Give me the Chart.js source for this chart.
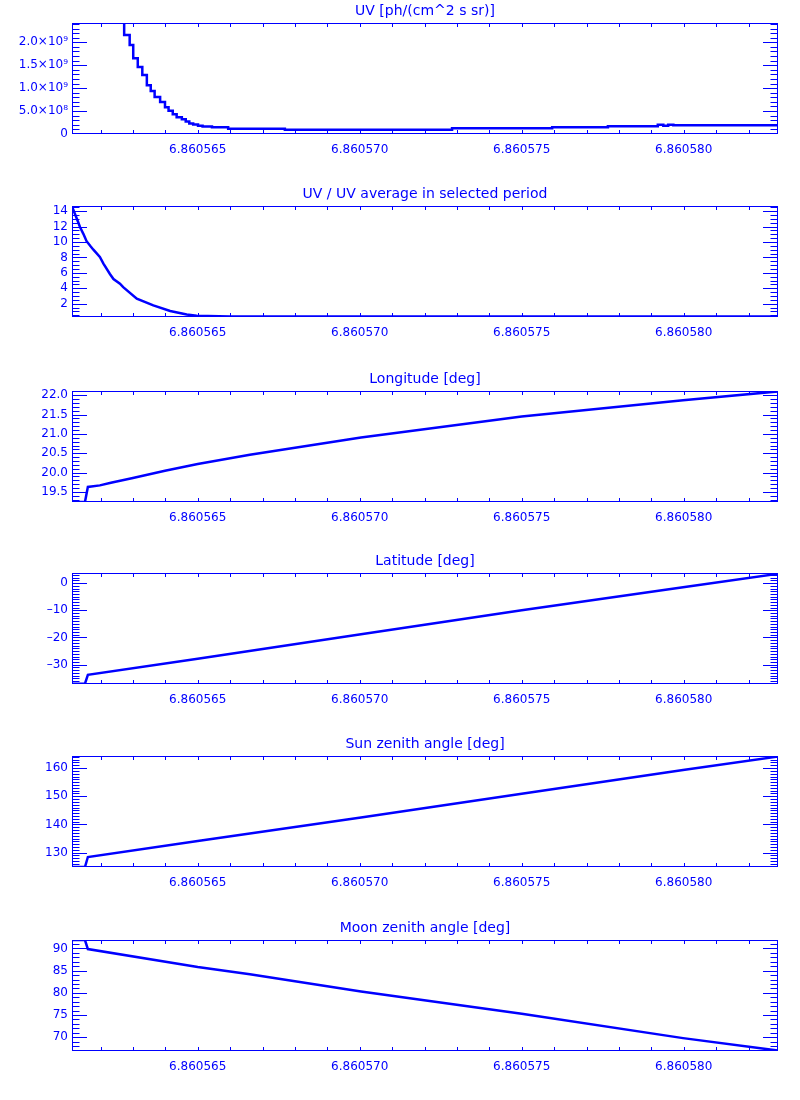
<!DOCTYPE html>
<html>
<head>
<meta charset="utf-8">
<script src="https://cdn.jsdelivr.net/npm/chart.js@4/dist/chart.umd.min.js"></script>
<style>
body { margin:0; background:#fff; }
#wrap { position:relative; width:800px; height:1100px; }
canvas { position:absolute; left:0; }
</style>
</head>
<body>
<div id="wrap"></div>
<script>
const BLUE = '#0000ff';
const FONT = 'DejaVu Sans';

// shared x range and labelled x ticks
const xMin = 6.86056112, xMax = 6.86058291;
const xTicks = [6.860565, 6.860570, 6.860575, 6.860580];

// UV [ph/(cm^2 s sr)]  (stepped)
const uvX = [6.86056112, 6.86056273, 6.86056290, 6.86056301, 6.86056315, 6.86056329, 6.86056343,
  6.86056355, 6.86056367, 6.86056384, 6.86056399, 6.86056410, 6.86056423, 6.86056435, 6.86056451,
  6.86056463, 6.86056474, 6.86056486, 6.86056501, 6.86056515, 6.86056544, 6.86056594, 6.86056769,
  6.86057285, 6.86057594, 6.86057766, 6.86057920, 6.86057937, 6.86057952, 6.86057968, 6.86058291];
const uvY = [2.9e9, 2.16e9, 1.94e9, 1.65e9, 1.46e9, 1.285e9, 1.065e9,
  0.935e9, 0.805e9, 0.70e9, 0.585e9, 0.505e9, 0.43e9, 0.365e9, 0.32e9,
  0.275e9, 0.23e9, 0.205e9, 0.18e9, 0.165e9, 0.145e9, 0.115e9, 0.094e9,
  0.123e9, 0.145e9, 0.167e9, 0.204e9, 0.182e9, 0.204e9, 0.189e9, 0.189e9];
const uvTicks = [0, 5e8, 1e9, 1.5e9, 2e9];
const uvLabels = ['0', '5.0×10⁸', '1.0×10⁹', '1.5×10⁹', '2.0×10⁹'];

// UV / UV average
const ratioX = [6.86056112, 6.86056127, 6.86056137, 6.86056147, 6.86056157, 6.86056168, 6.86056178,
  6.86056198, 6.86056209, 6.86056229, 6.86056240, 6.86056260, 6.86056270, 6.86056312, 6.86056363,
  6.86056415, 6.86056466, 6.86056497, 6.86056600, 6.86057000, 6.86058291];
const ratioY = [14.6, 13.0, 11.9, 11.05, 10.1, 9.5, 9.0, 8.05, 7.2, 5.85, 5.2, 4.6, 4.15, 2.65, 1.78,
  1.05, 0.6, 0.43, 0.35, 0.33, 0.34];
const ratioTicks = [2, 4, 6, 8, 10, 12, 14];
const ratioLabels = ['2', '4', '6', '8', '10', '12', '14'];

// Longitude
const lonX = [6.86056112, 6.86056152, 6.86056161, 6.86056198, 6.86056232, 6.86056300, 6.86056399,
  6.86056500, 6.86056661, 6.86057004, 6.86057500, 6.86057998, 6.86058291];
const lonY = [19.24, 19.24, 19.63, 19.67, 19.74, 19.86, 20.05, 20.22, 20.46, 20.91, 21.45, 21.87, 22.10];
const lonTicks = [19.5, 20, 20.5, 21, 21.5, 22];
const lonLabels = ['19.5', '20.0', '20.5', '21.0', '21.5', '22.0'];

// Latitude
const latX = [6.86056112, 6.86056152, 6.86056161, 6.86056500, 6.86057004, 6.86057500, 6.86057998, 6.86058291];
const latY = [-37.0, -37.0, -33.7, -27.8, -18.8, -10.0, -1.5, 3.4];
const latTicks = [-30, -20, -10, 0];
const latLabels = ['–30', '–20', '–10', '0'];

// Sun zenith angle
const sunX = [6.86056112, 6.86056152, 6.86056161, 6.86056500, 6.86057004, 6.86057500, 6.86057998, 6.86058291];
const sunY = [124.9, 124.9, 128.45, 134.1, 142.5, 150.9, 159.3, 164.1];
const sunTicks = [130, 140, 150, 160];
const sunLabels = ['130', '140', '150', '160'];

// Moon zenith angle
const moonX = [6.86056112, 6.86056152, 6.86056161, 6.86056500, 6.86056661, 6.86057004, 6.86057500, 6.86057998, 6.86058291];
const moonY = [91.9, 91.9, 89.85, 85.8, 84.2, 80.3, 75.3, 69.8, 67.0];
const moonTicks = [70, 75, 80, 85, 90];
const moonLabels = ['70', '75', '80', '85', '90'];

const panels = [
  { title: 'UV [ph/(cm^2 s sr)]', xs: uvX, ys: uvY, min: 0, max: 2.42e9, major: uvTicks, labels: uvLabels, minor: 1e8, stepped: 'before', top: 0 },
  { title: 'UV / UV average in selected period', xs: ratioX, ys: ratioY, min: 0.28, max: 14.66, major: ratioTicks, labels: ratioLabels, minor: 0.5, top: 183 },
  { title: 'Longitude [deg]', xs: lonX, ys: lonY, min: 19.24, max: 22.11, major: lonTicks, labels: lonLabels, minor: 0.1, top: 368 },
  { title: 'Latitude [deg]', xs: latX, ys: latY, min: -37.1, max: 3.7, major: latTicks, labels: latLabels, minor: 1, top: 550 },
  { title: 'Sun zenith angle [deg]', xs: sunX, ys: sunY, min: 124.9, max: 164.3, major: sunTicks, labels: sunLabels, minor: 1, top: 733 },
  { title: 'Moon zenith angle [deg]', xs: moonX, ys: moonY, min: 66.9, max: 91.9, major: moonTicks, labels: moonLabels, minor: 1, top: 917 }
];

// box frame + inward IDL style ticks
const boxTicks = {
  id: 'boxTicks',
  afterDatasetsDraw(chart, args, opts) {
    const { ctx, chartArea: a, scales: { x, y } } = chart;
    ctx.save();
    ctx.strokeStyle = BLUE;
    ctx.lineWidth = 1;
    ctx.strokeRect(a.left + 0.5, a.top + 0.5, a.right - a.left - 1, a.bottom - a.top - 1);
    ctx.beginPath();
    const hline = (v, len) => {
      const py = Math.round(y.getPixelForValue(v)) + 0.5;
      if (py < a.top || py > a.bottom) return;
      ctx.moveTo(a.left, py); ctx.lineTo(a.left + len, py);
      ctx.moveTo(a.right, py); ctx.lineTo(a.right - len, py);
    };
    const k0 = Math.ceil(y.min / opts.minor - 1e-6), k1 = Math.floor(y.max / opts.minor + 1e-6);
    for (let k = k0; k <= k1; k++) hline(k * opts.minor, 7.5);
    opts.major.forEach(v => hline(v, 15));
    for (let k = 6860562; k <= 6860582; k++) {
      const px = Math.round(x.getPixelForValue(k / 1e6)) + 0.5;
      if (px < a.left || px > a.right) continue;
      ctx.moveTo(px, a.bottom); ctx.lineTo(px, a.bottom - 4);
      ctx.moveTo(px, a.top); ctx.lineTo(px, a.top + 4);
    }
    ctx.stroke();
    ctx.restore();
  }
};

const wrap = document.getElementById('wrap');
panels.forEach(p => {
  const cv = document.createElement('canvas');
  cv.width = 800; cv.height = 183;
  cv.style.top = p.top + 'px';
  wrap.appendChild(cv);
  new Chart(cv, {
    type: 'line',
    data: {
      datasets: [{
        data: p.xs.map((x, i) => ({ x: x, y: p.ys[i] })),
        borderColor: BLUE,
        borderWidth: 2.5,
        pointRadius: 0,
        tension: 0,
        stepped: p.stepped || false
      }]
    },
    options: {
      responsive: false,
      animation: false,
      devicePixelRatio: 1,
      layout: { padding: { left: 0, right: 22, top: 0, bottom: 0 } },
      plugins: {
        legend: { display: false },
        tooltip: { enabled: false },
        title: {
          display: true, text: p.title, color: BLUE, fullSize: false,
          font: { family: FONT, size: 14, weight: 'normal' },
          padding: { top: 3, bottom: 3.2 }
        },
        boxTicks: { major: p.major, minor: p.minor }
      },
      scales: {
        x: {
          type: 'linear', min: xMin, max: xMax,
          grid: { display: false, drawTicks: false },
          border: { display: false },
          afterBuildTicks: s => { s.ticks = xTicks.map(v => ({ value: v })); },
          afterFit: s => { s.height = 49; },
          ticks: {
            color: BLUE, font: { family: FONT, size: 12 }, padding: 9,
            maxRotation: 0, autoSkip: false,
            callback: v => v.toFixed(6)
          }
        },
        y: {
          type: 'linear', min: p.min, max: p.max,
          grid: { display: false, drawTicks: false },
          border: { display: false },
          afterBuildTicks: s => { s.ticks = p.major.map(v => ({ value: v })); },
          afterFit: s => { s.width = 72; },
          ticks: {
            color: BLUE, font: { family: FONT, size: 12 }, padding: 4,
            autoSkip: false,
            callback: (v, i) => p.labels[i]
          }
        }
      }
    },
    plugins: [boxTicks]
  });
});
</script>
</body>
</html>
